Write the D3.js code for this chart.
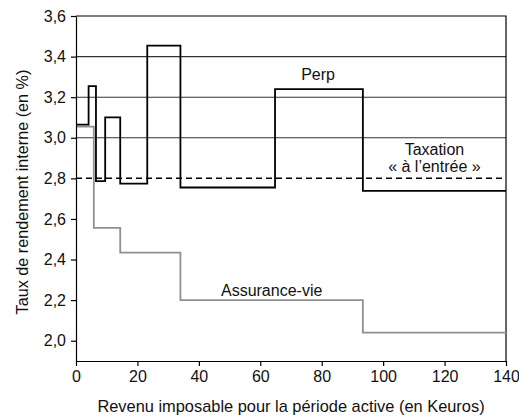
<!DOCTYPE html>
<html>
<head>
<meta charset="utf-8">
<script src="https://cdn.jsdelivr.net/npm/d3@7"></script>
<style>
  body { margin: 0; background: #fff; }
  text { font-family: "Liberation Sans", Arial, sans-serif; }
</style>
</head>
<body>
<svg id="svg"></svg>
<script>
// Data
var perpX = [0, 4.1, 6.5, 9.5, 14.4, 23.2, 34, 64.8, 93.4, 140];
var perpY = [3.065, 3.254, 2.786, 3.10, 2.774, 3.454, 2.755, 3.24, 2.738, 2.738];
var avX = [0, 5.8, 14.4, 34, 93.4, 140];
var avY = [3.055, 2.556, 2.434, 2.2, 2.04, 2.04];
var xTicks = [0, 20, 40, 60, 80, 100, 120, 140];
var yTicks = [2.0, 2.2, 2.4, 2.6, 2.8, 3.0, 3.2, 3.4, 3.6];
var gridVals = [3.0, 3.2, 3.4];
var taxRef = 2.8;

var width = 519;
var height = 416;
var margin = {top: 16, right: 13, bottom: 55, left: 76};
var fontSize = 16;

var svg = d3.select("#svg")
    .attr("width", width)
    .attr("height", height);

var x = d3.scaleLinear().domain([0, 140]).range([margin.left, width - margin.right]);
var y = d3.scaleLinear().domain([1.9, 3.6]).range([height - margin.bottom, margin.top]);

var fmt = function(d) { return d3.format(".1f")(d).replace(".", ","); };

// grid lines
svg.append("g").selectAll("line")
    .data(gridVals)
    .enter().append("line")
    .attr("x1", x(0)).attr("x2", x(140))
    .attr("y1", function(d) { return y(d); })
    .attr("y2", function(d) { return y(d); })
    .attr("stroke", "#333")
    .attr("stroke-width", 1.1);

// frame top/right
svg.append("path")
    .attr("d", "M" + x(0) + "," + y(3.6) + "H" + x(140) + "V" + y(1.9))
    .attr("fill", "none")
    .attr("stroke", "#000")
    .attr("stroke-width", 1.2);

// dashed reference
svg.append("line")
    .attr("x1", x(0)).attr("x2", x(140))
    .attr("y1", y(taxRef)).attr("y2", y(taxRef))
    .attr("stroke", "#000")
    .attr("stroke-width", 1.5)
    .attr("stroke-dasharray", "6,4");

var line = d3.line()
    .x(function(d) { return x(d[0]); })
    .y(function(d) { return y(d[1]); })
    .curve(d3.curveStepAfter);

svg.append("path")
    .datum(d3.zip(avX, avY))
    .attr("d", line)
    .attr("fill", "none")
    .attr("stroke", "#909090")
    .attr("stroke-width", 1.8);

svg.append("path")
    .datum(d3.zip(perpX, perpY))
    .attr("d", line)
    .attr("fill", "none")
    .attr("stroke", "#000")
    .attr("stroke-width", 1.8);

// axes
var xAxis = svg.append("g")
    .attr("transform", "translate(0," + y(1.9) + ")")
    .call(d3.axisBottom(x).tickValues(xTicks).tickSize(5).tickPadding(5).tickSizeOuter(0));
var yAxis = svg.append("g")
    .attr("transform", "translate(" + x(0) + ",0)")
    .call(d3.axisLeft(y).tickValues(yTicks).tickFormat(fmt).tickSize(5).tickPadding(5).tickSizeOuter(0));

[xAxis, yAxis].forEach(function(a) {
    a.select(".domain").attr("stroke", "#000").attr("stroke-width", 1.2);
    a.selectAll(".tick line").attr("stroke", "#000").attr("stroke-width", 1.2);
    a.selectAll(".tick text")
        .attr("font-family", "Liberation Sans, Arial, sans-serif")
        .attr("font-size", fontSize)
        .attr("fill", "#111");
});

// titles
svg.append("text")
    .attr("x", 291)
    .attr("y", 412)
    .attr("text-anchor", "middle")
    .attr("font-size", 16.4)
    .attr("fill", "#111")
    .text("Revenu imposable pour la période active (en Keuros)");

svg.append("text")
    .attr("transform", "translate(28,192) rotate(-90)")
    .attr("text-anchor", "middle")
    .attr("font-size", 16.2)
    .attr("fill", "#111")
    .text("Taux de rendement interne (en %)");

// annotations
var notes = [
    {t: "Perp", x: 78.8, y: 3.287},
    {t: "Taxation", x: 116.7, y: 2.915},
    {t: "« à l’entrée »", x: 116.7, y: 2.829},
    {t: "Assurance-vie", x: 63.7, y: 2.222}
];
svg.append("g").selectAll("text")
    .data(notes)
    .enter().append("text")
    .attr("x", function(d) { return x(d.x); })
    .attr("y", function(d) { return y(d.y); })
    .attr("text-anchor", "middle")
    .attr("font-size", fontSize)
    .attr("fill", "#111")
    .text(function(d) { return d.t; });
</script>
</body>
</html>
